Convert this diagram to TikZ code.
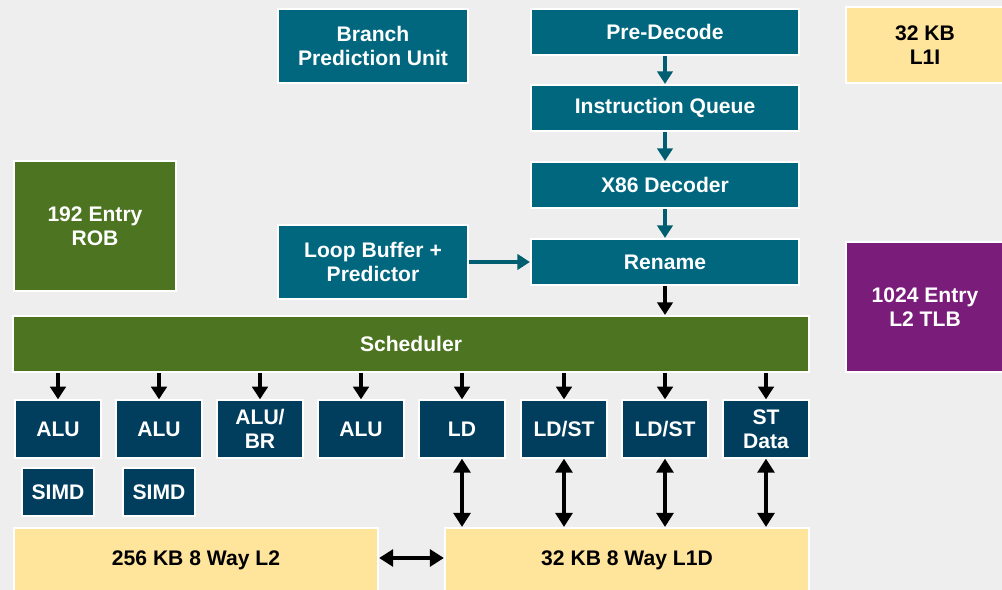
\documentclass[tikz,border=0pt]{standalone}
\usepackage{fontspec}
\setmainfont{Liberation Sans}
\usetikzlibrary{arrows.meta,shadows}
\definecolor{bgcol}{RGB}{238,238,238}
\definecolor{tealbox}{RGB}{0,103,127}
\definecolor{tealarr}{RGB}{0,94,112}
\definecolor{navybox}{RGB}{1,62,94}
\definecolor{greenbox}{RGB}{77,116,32}
\definecolor{purplebox}{RGB}{122,28,122}
\definecolor{yellowbox}{RGB}{255,228,156}

\begin{document}
\begin{tikzpicture}
  [
    x = 0.025cm, y = -0.025cm,
    font = \fontsize{15}{17}\selectfont\bfseries,
    box/.style    = {draw = white, line width = 1.5pt, align = center, inner sep = 0pt,
                     drop shadow = {shadow xshift = 1pt, shadow yshift = -1pt, opacity = 0.3}},
    front/.style  = {box, fill = tealbox, text = white},
    unit/.style   = {box, fill = navybox, text = white, minimum width = 2.15cm, minimum height = 1.43cm},
    simd/.style   = {box, fill = navybox, text = white, minimum width = 1.8cm, minimum height = 1.18cm},
    cache/.style  = {box, fill = yellowbox, text = black},
    wide/.style   = {minimum width = 6.7cm, minimum height = 1.15cm},
    mid/.style    = {minimum width = 4.75cm, minimum height = 1.85cm},
    tarr/.style   = {draw = tealarr, line width = 2.4pt, -{Triangle[width = 11pt, length = 9pt]}},
    barr/.style   = {draw = black, line width = 2.4pt, -{Triangle[width = 11pt, length = 9pt]}},
    darr/.style   = {draw = black, line width = 2.4pt, {Triangle[width = 12pt, length = 10pt]}-{Triangle[width = 12pt, length = 10pt]}},
  ]

 \clip (0,0) rectangle (1002,590);
 \fill [bgcol] (0,0) rectangle (1002,590);

 % front end
 \node [front, mid]  (bpu)       at (373, 46)  {Branch\\Prediction Unit};
 \node [front, wide] (predecode) at (665, 32)  {Pre-Decode};
 \node [front, wide] (iqueue)    at (665, 108) {Instruction Queue};
 \node [front, wide] (decoder)   at (665, 185) {X86 Decoder};
 \node [front, wide] (rename)    at (665, 262) {Rename};
 \node [front, mid]  (loopbuf)   at (373, 262) {Loop Buffer +\\Predictor};

 % side blocks
 \node [box, fill = greenbox, text = white, minimum width = 4.03cm, minimum height = 3.23cm]   (rob) at (95, 226)  {192 Entry\\ROB};
 \node [cache, minimum width = 3.97cm, minimum height = 1.88cm]                                (l1i) at (925, 45)  {32 KB\\L1I};
 \node [box, fill = purplebox, text = white, minimum width = 3.97cm, minimum height = 3.23cm]  (tlb) at (925, 307)  {1024 Entry\\L2 TLB};

 \node [box, fill = greenbox, text = white, minimum width = 19.88cm, minimum height = 1.4cm] (sched) at (411, 344) {Scheduler};

 % execution units
 \node [unit] (alua)  at (58, 429)  {ALU};
 \node [unit] (alub)  at (159, 429) {ALU};
 \node [unit] (alubr) at (260, 429) {ALU/\\BR};
 \node [unit] (aluc)  at (361, 429) {ALU};
 \node [unit] (ld)    at (462, 429) {LD};
 \node [unit] (ldsta) at (564, 429) {LD/ST};
 \node [unit] (ldstb) at (665, 429) {LD/ST};
 \node [unit] (stdat) at (766, 429) {ST\\Data};
 \node [simd] (simda) at (58, 492)  {SIMD};
 \node [simd] (simdb) at (159, 492) {SIMD};

 % caches
 \node [cache, minimum width = 9.1cm, minimum height = 1.6cm] (ltwo) at (196, 560) {256 KB 8 Way L2};
 \node [cache, minimum width = 9.1cm, minimum height = 1.6cm] (lone) at (627, 560) {32 KB 8 Way L1D};

 \draw [tarr] (predecode) -- (iqueue);
 \draw [tarr] (iqueue) -- (decoder);
 \draw [tarr] (decoder) -- (rename);
 \draw [tarr] (loopbuf) -- (rename);
 \draw [barr] (rename) -- (rename |- sched.north);

 \draw [barr] (sched.south -| alua)  -- (alua);
 \draw [barr] (sched.south -| alub)  -- (alub);
 \draw [barr] (sched.south -| alubr) -- (alubr);
 \draw [barr] (sched.south -| aluc)  -- (aluc);
 \draw [barr] (sched.south -| ld)    -- (ld);
 \draw [barr] (sched.south -| ldsta) -- (ldsta);
 \draw [barr] (sched.south -| ldstb) -- (ldstb);
 \draw [barr] (sched.south -| stdat) -- (stdat);

 \draw [darr] (ld)    -- (ld |- lone.north);
 \draw [darr] (ldsta) -- (ldsta |- lone.north);
 \draw [darr] (ldstb) -- (ldstb |- lone.north);
 \draw [darr] (stdat) -- (stdat |- lone.north);
 \draw [darr] (ltwo.east |- 0,558) -- (lone.west |- 0,558);

\end{tikzpicture}
\end{document}
